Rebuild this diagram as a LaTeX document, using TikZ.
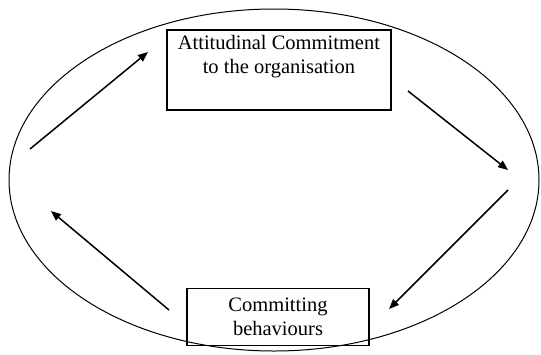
\documentclass[tikz,border=0pt]{standalone}
\usepackage{fontspec}
\setmainfont{Liberation Serif}
\usetikzlibrary{arrows.meta}
\begin{document}
\begin{tikzpicture}[x=1pt,y=-1pt,
  label text/.style={align=center,font=\fontsize{20.5}{24}\selectfont,inner sep=0pt},
  box/.style={draw,line width=1.8pt},
  flow/.style={line width=1.5pt,-{Triangle[length=10pt,width=8pt]}},
  cycle/.style={draw,line width=1pt}]
\useasboundingbox (0,0) rectangle (541,354);
% surrounding cycle
\draw[cycle] (274,180) ellipse [x radius=265, y radius=171];
% upper stage: text sits near the top of a taller box
\node[box,minimum width=224pt,minimum height=80pt,anchor=north west,inner sep=0pt]
  (att) at (166,29) {};
\node[label text,anchor=north] (atttext) at ([yshift=-6pt]att.north)
  {Attitudinal Commitment\\to the organisation};
% lower stage
\node[box,label text,minimum width=182pt,minimum height=57pt] (beh) at (278,317)
  {Committing\\behaviours};
% arrow end points
\coordinate (a1s) at (30,149);
\coordinate (a1e) at (148,52);
\coordinate (a2s) at (408,91);
\coordinate (a2e) at (508,170);
\coordinate (a3s) at (508,190);
\coordinate (a3e) at (389,309);
\coordinate (a4s) at (169,310);
\coordinate (a4e) at (51,211);
\draw[flow] (a1s) -- (a1e);
\draw[flow] (a2s) -- (a2e);
\draw[flow] (a3s) -- (a3e);
\draw[flow] (a4s) -- (a4e);
\end{tikzpicture}
\end{document}
